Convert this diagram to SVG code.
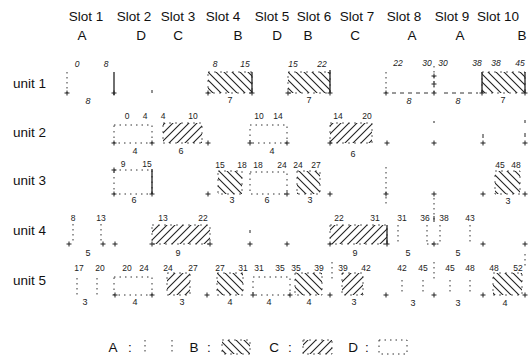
<svg xmlns="http://www.w3.org/2000/svg" xmlns:xlink="http://www.w3.org/1999/xlink" width="531" height="358" viewBox="0 0 531 358">
<style>
.hdr{font-family:"Liberation Sans",Arial,sans-serif;font-size:13.5px;fill:#111;text-anchor:middle}
.lab{font-family:"Liberation Sans",Arial,sans-serif;font-size:13.5px;fill:#111}
.num{font-family:"Liberation Sans",Arial,sans-serif;font-size:8.5px;fill:#222;text-anchor:middle}
.it{font-style:italic}
.dur{font-family:"Liberation Sans",Arial,sans-serif;font-size:9px;fill:#222;text-anchor:middle}
.dot{stroke:#333;stroke-width:1;stroke-dasharray:1.5 3.5;fill:none}
.dsh{stroke:#333;stroke-width:1;stroke-dasharray:4 4;fill:none}
.sol{stroke:#222;stroke-width:1.3;fill:none}
.hb{fill:url(#hB);stroke:#333;stroke-width:0.8;stroke-dasharray:2 4}
.hc{fill:url(#hC);stroke:#333;stroke-width:0.8;stroke-dasharray:2 4}
.dd{fill:none;stroke:#333;stroke-width:1;stroke-dasharray:1.5 4}
.pl{stroke:#222;stroke-width:1;fill:none}
</style>
<defs>
<pattern id="hB" patternUnits="userSpaceOnUse" width="8" height="8">
<path d="M0,0L8,8M-1,7L1,9M7,-1L9,1" stroke="#222" stroke-width="1.1"/>
</pattern>
<pattern id="hC" patternUnits="userSpaceOnUse" width="8" height="8">
<path d="M0,8L8,0M-1,1L1,-1M7,9L9,7" stroke="#222" stroke-width="1.1"/>
</pattern>
<path id="p" d="M-2.5,0H2.5M0,-2.5V2.5" class="pl"/>
</defs>

<g id="headers">
<text class="hdr" x="86" y="21">Slot 1</text>
<text class="hdr" x="134" y="21">Slot 2</text>
<text class="hdr" x="178" y="21">Slot 3</text>
<text class="hdr" x="223" y="21">Slot 4</text>
<text class="hdr" x="272" y="21">Slot 5</text>
<text class="hdr" x="314" y="21">Slot 6</text>
<text class="hdr" x="357" y="21">Slot 7</text>
<text class="hdr" x="404" y="21">Slot 8</text>
<text class="hdr" x="452" y="21">Slot 9</text>
<text class="hdr" x="498" y="21">Slot 10</text>
<text class="hdr" x="82" y="40">A</text>
<text class="hdr" x="141" y="40">D</text>
<text class="hdr" x="178" y="40">C</text>
<text class="hdr" x="238" y="40">B</text>
<text class="hdr" x="277" y="40">D</text>
<text class="hdr" x="308" y="40">B</text>
<text class="hdr" x="355" y="40">C</text>
<text class="hdr" x="412" y="40">A</text>
<text class="hdr" x="460" y="40">A</text>
<text class="hdr" x="522" y="40">B</text>
</g>

<g id="row-labels">
<text class="lab" x="13" y="88">unit 1</text>
<text class="lab" x="13" y="137">unit 2</text>
<text class="lab" x="13" y="185">unit 3</text>
<text class="lab" x="13" y="235">unit 4</text>
<text class="lab" x="13" y="285">unit 5</text>
</g>

<g id="unit1">
<g id="u1s1">
<line class="dot" x1="67" y1="72" x2="67" y2="93"/><use href="#p" x="67" y="93"/>
<line class="sol" x1="114" y1="72" x2="114" y2="95"/><use href="#p" x="114" y="93"/>
<text class="num it" x="77" y="67">0</text><text class="num it" x="106" y="67">8</text>
<text class="dur it" x="88" y="104">8</text>
</g>
<g id="u1s4">
<rect class="hb" x="208" y="72" width="44" height="21"/>
<line class="sol" x1="252" y1="72" x2="252" y2="93"/>
<use href="#p" x="208" y="93"/><use href="#p" x="252" y="93"/>
<text class="num it" x="215" y="67">8</text><text class="num it" x="245" y="67">15</text>
<text class="dur" x="230" y="103">7</text>
</g>
<g id="u1s6">
<rect class="hb" x="288" y="72" width="42" height="21"/>
<line class="sol" x1="330" y1="70" x2="330" y2="93"/>
<use href="#p" x="288" y="93"/><use href="#p" x="330" y="93"/>
<text class="num it" x="293" y="67">15</text><text class="num it" x="322" y="67">22</text>
<text class="dur" x="309" y="103">7</text>
</g>
<g id="u1s8">
<line class="dot" x1="386" y1="72" x2="386" y2="93"/><use href="#p" x="386" y="93"/>
<line class="dsh" x1="392" y1="93" x2="430" y2="93"/>
<line class="dot" x1="434" y1="66" x2="434" y2="93"/>
<use href="#p" x="434" y="76"/><use href="#p" x="434" y="84"/><use href="#p" x="434" y="93"/>
<text class="num it" x="398" y="66">22</text><text class="num it" x="427" y="66">30</text>
<text class="dur it" x="409" y="104">8</text>
</g>
<g id="u1s9">
<line class="dsh" x1="444" y1="93" x2="478" y2="93"/>
<line class="sol" x1="482" y1="72" x2="482" y2="93"/><use href="#p" x="482" y="93"/>
<text class="num it" x="443" y="66">30</text><text class="num it" x="477" y="66">38</text>
<text class="dur it" x="458" y="104">8</text>
</g>
<g id="u1s10">
<rect class="hb" x="482" y="72" width="43" height="21"/>
<line class="sol" x1="525" y1="72" x2="525" y2="93"/><use href="#p" x="525" y="93"/>
<text class="num it" x="496" y="66">38</text><text class="num it" x="520" y="66">45</text>
<text class="dur" x="503" y="103">7</text>
</g>
<line class="pl" x1="152" y1="90" x2="152" y2="93"/>
</g>

<g id="unit2">
<g id="u2s2">
<rect class="dd" x="114" y="125" width="38" height="18"/>
<use href="#p" x="114" y="143"/><use href="#p" x="152" y="143"/>
<text class="num" x="127" y="119">0</text><text class="num" x="145" y="119">4</text>
<text class="dur" x="135" y="154">4</text>
</g>
<g id="u2s3">
<rect class="hc" x="163" y="123" width="39" height="20"/>
<use href="#p" x="208" y="143"/>
<text class="num" x="163" y="119">4</text><text class="num" x="193" y="119">10</text>
<text class="dur" x="181" y="154">6</text>
</g>
<g id="u2s5">
<rect class="dd" x="250" y="125" width="37" height="18"/>
<use href="#p" x="250" y="143"/><use href="#p" x="287" y="143"/>
<text class="num" x="259" y="119">10</text><text class="num" x="278" y="119">14</text>
<text class="dur" x="272" y="154">4</text>
</g>
<g id="u2s7">
<rect class="hc" x="330" y="123" width="42" height="20"/>
<use href="#p" x="330" y="143"/><use href="#p" x="387" y="143"/>
<text class="num" x="338" y="119">14</text><text class="num" x="367" y="119">20</text>
<text class="dur" x="353" y="157">6</text>
</g>
<use href="#p" x="434" y="143"/><use href="#p" x="483" y="143"/><use href="#p" x="525" y="143"/>
<line class="pl" x1="434" y1="121" x2="434" y2="123"/>
<line class="pl" x1="483" y1="134" x2="483" y2="138"/>
<line class="pl" x1="525" y1="120" x2="525" y2="123"/>
<line class="pl" x1="525" y1="133" x2="525" y2="137"/>
</g>

<g id="unit3">
<g id="u3s2">
<rect class="dd" x="114" y="170" width="38" height="24"/>
<line class="sol" x1="152" y1="169" x2="152" y2="194"/>
<use href="#p" x="114" y="170"/><use href="#p" x="114" y="194"/><use href="#p" x="152" y="194"/>
<text class="num" x="123" y="167">9</text><text class="num" x="147" y="167">15</text>
<text class="dur" x="134" y="203">6</text>
</g>
<g id="u3s4">
<rect class="hb" x="218" y="171" width="24" height="23"/>
<use href="#p" x="208" y="194"/>
<text class="num" x="220" y="168">15</text><text class="num" x="242" y="168">18</text>
<text class="dur" x="232" y="203">3</text>
</g>
<g id="u3s5">
<rect class="dd" x="250" y="172" width="37" height="22"/>
<use href="#p" x="287" y="194"/>
<text class="num" x="258" y="168">18</text><text class="num" x="282" y="168">24</text>
<text class="dur" x="267" y="203">6</text>
</g>
<g id="u3s6">
<rect class="hb" x="297" y="171" width="23" height="23"/>
<use href="#p" x="330" y="194"/>
<text class="num" x="298" y="168">24</text><text class="num" x="316" y="168">27</text>
<text class="dur" x="310" y="203">3</text>
</g>
<line class="dot" x1="386" y1="167" x2="386" y2="204"/><use href="#p" x="386" y="194"/>
<use href="#p" x="434" y="194"/><use href="#p" x="483" y="194"/>
<line class="dot" x1="434" y1="198" x2="434" y2="222"/>
<g id="u3s10">
<rect class="hb" x="495" y="171" width="25" height="23"/>
<use href="#p" x="525" y="194"/>
<text class="num" x="500" y="168">45</text><text class="num" x="516" y="168">48</text>
<text class="dur" x="508" y="204">3</text>
</g>
</g>

<g id="unit4">
<g id="u4s1">
<line class="dot" x1="73" y1="224" x2="73" y2="244"/>
<line class="dot" x1="101" y1="224" x2="101" y2="244"/>
<use href="#p" x="69" y="244"/><use href="#p" x="103" y="244"/><use href="#p" x="115" y="244"/>
<text class="num" x="73" y="221">8</text><text class="num" x="101" y="221">13</text>
<text class="dur" x="88" y="256">5</text>
</g>
<g id="u4s3">
<rect class="hc" x="152" y="225" width="58" height="19"/>
<use href="#p" x="152" y="244"/><use href="#p" x="210" y="244"/>
<text class="num" x="163" y="221">13</text><text class="num" x="203" y="221">22</text>
<text class="dur" x="178" y="256">9</text>
</g>
<line class="pl" x1="250" y1="230" x2="250" y2="233"/><use href="#p" x="250" y="244"/>
<use href="#p" x="287" y="244"/>
<g id="u4s7">
<rect class="hc" x="330" y="225" width="57" height="19"/>
<line class="sol" x1="387" y1="225" x2="387" y2="244"/>
<use href="#p" x="330" y="244"/><use href="#p" x="387" y="244"/>
<text class="num" x="339" y="221">22</text><text class="num" x="375" y="221">31</text>
<text class="dur" x="355" y="256">9</text>
</g>
<g id="u4s8">
<line class="dot" x1="398" y1="225" x2="398" y2="244"/>
<line class="dot" x1="427" y1="225" x2="427" y2="244"/>
<path class="dot" d="M427,244H440"/>
<line class="pl" x1="434" y1="216" x2="434" y2="222"/>
<use href="#p" x="434" y="244"/>
<text class="num" x="402" y="221">31</text><text class="num" x="425" y="221">36</text>
<text class="dur" x="408" y="256">5</text>
</g>
<g id="u4s9">
<line class="dot" x1="440" y1="225" x2="440" y2="244"/>
<line class="dot" x1="470" y1="225" x2="470" y2="244"/>
<use href="#p" x="483" y="244"/><use href="#p" x="525" y="244"/>
<text class="num" x="444" y="221">38</text><text class="num" x="470" y="221">43</text>
<text class="dur" x="458" y="256">5</text>
</g>
</g>

<g id="unit5">
<g id="u5s1">
<line class="dot" x1="77" y1="278" x2="77" y2="296"/>
<line class="dot" x1="97" y1="278" x2="97" y2="296"/>
<text class="num" x="79" y="271">17</text><text class="num" x="100" y="271">20</text>
<text class="dur" x="85" y="305">3</text>
</g>
<g id="u5s2">
<rect class="dd" x="114" y="277" width="38" height="18"/>
<use href="#p" x="115" y="295"/><use href="#p" x="152" y="295"/>
<text class="num" x="127" y="271">20</text><text class="num" x="144" y="271">24</text>
<text class="dur" x="135" y="305">4</text>
</g>
<g id="u5s3">
<rect class="hc" x="167" y="273" width="23" height="22"/>
<use href="#p" x="207" y="295"/>
<text class="num" x="168" y="271">24</text><text class="num" x="193" y="271">27</text>
<text class="dur" x="182" y="305">3</text>
</g>
<g id="u5s4">
<rect class="hb" x="217" y="273" width="26" height="22"/>
<use href="#p" x="253" y="295"/>
<text class="num" x="220" y="271">27</text><text class="num" x="243" y="271">31</text>
<text class="dur" x="230" y="305">4</text>
</g>
<g id="u5s5">
<rect class="dd" x="253" y="277" width="37" height="18"/>
<use href="#p" x="290" y="295"/>
<text class="num" x="259" y="271">31</text><text class="num" x="280" y="271">35</text>
<text class="dur" x="269" y="305">4</text>
</g>
<g id="u5s6">
<rect class="hb" x="295" y="273" width="27" height="22"/>
<use href="#p" x="330" y="295"/>
<line class="dot" x1="332" y1="262" x2="332" y2="282"/>
<text class="num" x="296" y="271">35</text><text class="num" x="319" y="271">39</text>
<text class="dur" x="309" y="305">4</text>
</g>
<g id="u5s7">
<rect class="hc" x="342" y="273" width="21" height="22"/>
<use href="#p" x="386" y="295"/>
<text class="num" x="343" y="271">39</text><text class="num" x="366" y="271">42</text>
<text class="dur" x="354" y="305">3</text>
</g>
<g id="u5s8">
<line class="dot" x1="402" y1="280" x2="402" y2="295"/>
<line class="dot" x1="423" y1="280" x2="423" y2="295"/>
<line class="dot" x1="434" y1="262" x2="434" y2="282"/>
<use href="#p" x="434" y="295"/>
<text class="num" x="402" y="271">42</text><text class="num" x="423" y="271">45</text>
<text class="dur" x="413" y="306">3</text>
</g>
<g id="u5s9">
<line class="dot" x1="450" y1="280" x2="450" y2="295"/>
<line class="dot" x1="470" y1="280" x2="470" y2="295"/>
<use href="#p" x="483" y="295"/>
<text class="num" x="450" y="271">45</text><text class="num" x="470" y="271">48</text>
<text class="dur" x="458" y="306">3</text>
</g>
<g id="u5s10">
<rect class="hb" x="493" y="273" width="29" height="22"/>
<use href="#p" x="525" y="295"/>
<line class="dot" x1="525" y1="254" x2="525" y2="268"/>
<text class="num" x="494" y="271">48</text><text class="num" x="518" y="271">52</text>
<text class="dur" x="505" y="306">4</text>
</g>
</g>

<g id="legend">
<text class="hdr" x="113" y="352">A</text><text class="hdr" x="130" y="352">:</text>
<line class="dot" x1="145" y1="340" x2="145" y2="355"/>
<line class="dot" x1="172" y1="340" x2="172" y2="355"/>
<text class="hdr" x="194" y="352">B</text><text class="hdr" x="209" y="352">:</text>
<rect class="hb" x="222" y="340" width="28" height="14"/>
<text class="hdr" x="274" y="352">C</text><text class="hdr" x="290" y="352">:</text>
<rect class="hc" x="303" y="340" width="29" height="14"/>
<text class="hdr" x="353" y="352">D</text><text class="hdr" x="367" y="352">:</text>
<rect class="dd" x="379" y="340" width="28" height="14"/>
</g>
</svg>
